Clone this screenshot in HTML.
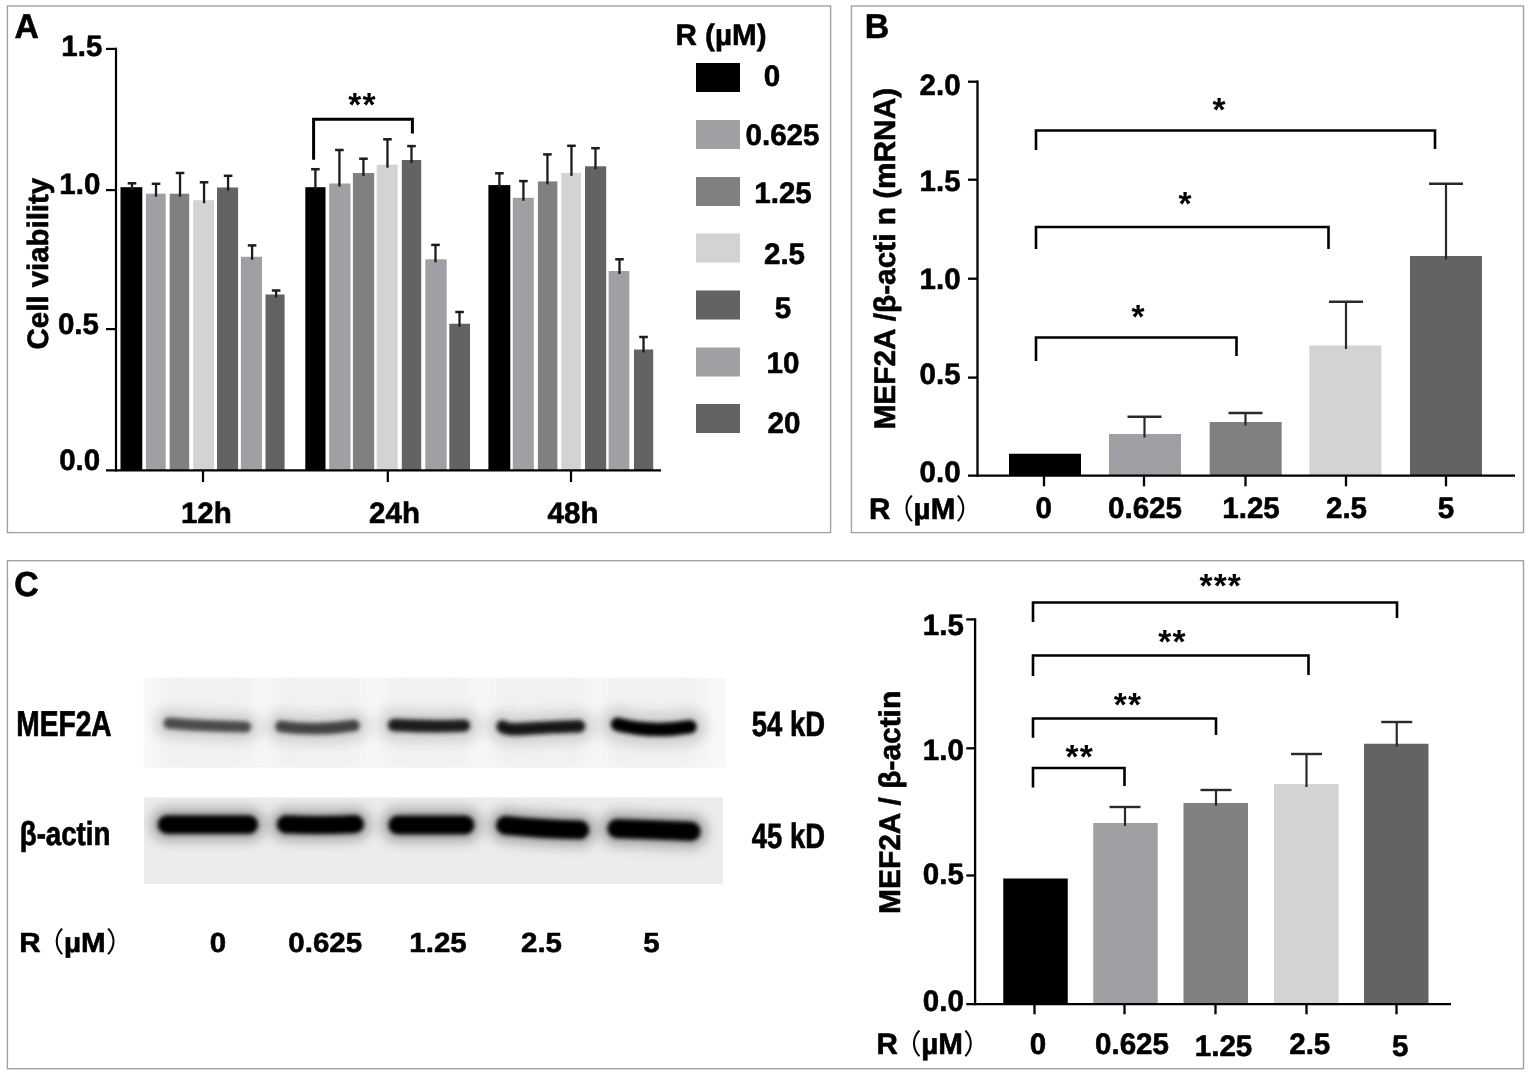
<!DOCTYPE html>
<html lang="en"><head><meta charset="utf-8"><title>Figure</title>
<style>html,body{margin:0;padding:0;background:#fff;overflow:hidden}svg{display:block}</style></head>
<body>
<svg width="1535" height="1078" viewBox="0 0 1535 1078" font-family='"Liberation Sans", "Noto Sans CJK SC", sans-serif' font-weight="bold" fill="#000" text-rendering="geometricPrecision">
<defs><filter id="b1" filterUnits="userSpaceOnUse" x="100" y="640" width="680" height="280"><feGaussianBlur stdDeviation="2.3"/></filter><filter id="b2" filterUnits="userSpaceOnUse" x="100" y="640" width="680" height="280"><feGaussianBlur stdDeviation="2.2"/></filter><filter id="b3" filterUnits="userSpaceOnUse" x="100" y="640" width="680" height="280"><feGaussianBlur stdDeviation="6"/></filter><filter id="b4" filterUnits="userSpaceOnUse" x="100" y="640" width="680" height="280"><feGaussianBlur stdDeviation="9 0"/></filter></defs>
<rect x="0" y="0" width="1535" height="1078" fill="#fff" />
<rect x="7.4" y="6.0" width="823.2" height="526.6" fill="none" stroke="#a2a2a2" stroke-width="1.4"/>
<rect x="851.4" y="6.0" width="672.1" height="526.6" fill="none" stroke="#a2a2a2" stroke-width="1.4"/>
<rect x="7.4" y="560.7" width="1516.1" height="508.0" fill="none" stroke="#a2a2a2" stroke-width="1.4"/>
<text transform="translate(14.6 38.4) scale(0.125 0.1275)" font-size="270.4" text-anchor="start" stroke="#000" stroke-width="4.8" stroke-linejoin="round" >A</text>
<rect x="120.5" y="187.2" width="21.8" height="283.1" fill="#000000" />
<line x1="132.0" y1="183.3" x2="132.0" y2="190.2" stroke="#1c1c1c" stroke-width="2.3" stroke-linecap="butt"/>
<line x1="127.7" y1="183.3" x2="136.3" y2="183.3" stroke="#1c1c1c" stroke-width="2.5" stroke-linecap="butt"/>
<rect x="145.9" y="193.7" width="19.8" height="276.6" fill="#a0a0a4" />
<line x1="156.02" y1="183.8" x2="156.02" y2="196.7" stroke="#1c1c1c" stroke-width="2.3" stroke-linecap="butt"/>
<line x1="151.72" y1="183.8" x2="160.32000000000002" y2="183.8" stroke="#1c1c1c" stroke-width="2.5" stroke-linecap="butt"/>
<rect x="169.7" y="193.7" width="19.5" height="276.6" fill="#808080" />
<line x1="180.04" y1="173" x2="180.04" y2="196.7" stroke="#1c1c1c" stroke-width="2.3" stroke-linecap="butt"/>
<line x1="175.73999999999998" y1="173" x2="184.34" y2="173" stroke="#1c1c1c" stroke-width="2.5" stroke-linecap="butt"/>
<rect x="193.2" y="200.2" width="20.8" height="270.1" fill="#d3d3d3" />
<line x1="204.06" y1="182.3" x2="204.06" y2="203.2" stroke="#1c1c1c" stroke-width="2.3" stroke-linecap="butt"/>
<line x1="199.76" y1="182.3" x2="208.36" y2="182.3" stroke="#1c1c1c" stroke-width="2.5" stroke-linecap="butt"/>
<rect x="217" y="187.5" width="21.1" height="282.8" fill="#636363" />
<line x1="228.08" y1="175.8" x2="228.08" y2="190.5" stroke="#1c1c1c" stroke-width="2.3" stroke-linecap="butt"/>
<line x1="223.78" y1="175.8" x2="232.38000000000002" y2="175.8" stroke="#1c1c1c" stroke-width="2.5" stroke-linecap="butt"/>
<rect x="240.9" y="256.8" width="21.1" height="213.5" fill="#a0a0a4" />
<line x1="252.1" y1="245.4" x2="252.1" y2="259.8" stroke="#1c1c1c" stroke-width="2.3" stroke-linecap="butt"/>
<line x1="247.79999999999998" y1="245.4" x2="256.4" y2="245.4" stroke="#1c1c1c" stroke-width="2.5" stroke-linecap="butt"/>
<rect x="265.5" y="294.5" width="19.1" height="175.8" fill="#636363" />
<line x1="276.12" y1="290.5" x2="276.12" y2="297.5" stroke="#1c1c1c" stroke-width="2.3" stroke-linecap="butt"/>
<line x1="271.82" y1="290.5" x2="280.42" y2="290.5" stroke="#1c1c1c" stroke-width="2.5" stroke-linecap="butt"/>
<rect x="305.3" y="187.2" width="20.2" height="283.1" fill="#000000" />
<line x1="315.4" y1="169.2" x2="315.4" y2="190.2" stroke="#1c1c1c" stroke-width="2.3" stroke-linecap="butt"/>
<line x1="311.09999999999997" y1="169.2" x2="319.7" y2="169.2" stroke="#1c1c1c" stroke-width="2.5" stroke-linecap="butt"/>
<rect x="329.2" y="183.5" width="21.3" height="286.8" fill="#a0a0a4" />
<line x1="339.42" y1="150" x2="339.42" y2="186.5" stroke="#1c1c1c" stroke-width="2.3" stroke-linecap="butt"/>
<line x1="335.12" y1="150" x2="343.72" y2="150" stroke="#1c1c1c" stroke-width="2.5" stroke-linecap="butt"/>
<rect x="352.9" y="173" width="21.3" height="297.3" fill="#808080" />
<line x1="363.44" y1="158.7" x2="363.44" y2="176" stroke="#1c1c1c" stroke-width="2.3" stroke-linecap="butt"/>
<line x1="359.14" y1="158.7" x2="367.74" y2="158.7" stroke="#1c1c1c" stroke-width="2.5" stroke-linecap="butt"/>
<rect x="376.7" y="164.7" width="21.0" height="305.6" fill="#d3d3d3" />
<line x1="387.46" y1="139.3" x2="387.46" y2="167.7" stroke="#1c1c1c" stroke-width="2.3" stroke-linecap="butt"/>
<line x1="383.15999999999997" y1="139.3" x2="391.76" y2="139.3" stroke="#1c1c1c" stroke-width="2.5" stroke-linecap="butt"/>
<rect x="401.8" y="160" width="19.4" height="310.3" fill="#636363" />
<line x1="411.48" y1="146.1" x2="411.48" y2="163" stroke="#1c1c1c" stroke-width="2.3" stroke-linecap="butt"/>
<line x1="407.18" y1="146.1" x2="415.78000000000003" y2="146.1" stroke="#1c1c1c" stroke-width="2.5" stroke-linecap="butt"/>
<rect x="425.3" y="259.3" width="21.4" height="211.0" fill="#a0a0a4" />
<line x1="435.5" y1="244.9" x2="435.5" y2="262.3" stroke="#1c1c1c" stroke-width="2.3" stroke-linecap="butt"/>
<line x1="431.2" y1="244.9" x2="439.8" y2="244.9" stroke="#1c1c1c" stroke-width="2.5" stroke-linecap="butt"/>
<rect x="449.3" y="323.75" width="20.7" height="146.55" fill="#636363" />
<line x1="459.52" y1="312" x2="459.52" y2="326.75" stroke="#1c1c1c" stroke-width="2.3" stroke-linecap="butt"/>
<line x1="455.21999999999997" y1="312" x2="463.82" y2="312" stroke="#1c1c1c" stroke-width="2.5" stroke-linecap="butt"/>
<rect x="488.4" y="185.1" width="21.9" height="285.2" fill="#000000" />
<line x1="499.4" y1="173.3" x2="499.4" y2="188.1" stroke="#1c1c1c" stroke-width="2.3" stroke-linecap="butt"/>
<line x1="495.09999999999997" y1="173.3" x2="503.7" y2="173.3" stroke="#1c1c1c" stroke-width="2.5" stroke-linecap="butt"/>
<rect x="512.8" y="197.8" width="21.0" height="272.5" fill="#a0a0a4" />
<line x1="523.42" y1="181.1" x2="523.42" y2="200.8" stroke="#1c1c1c" stroke-width="2.3" stroke-linecap="butt"/>
<line x1="519.12" y1="181.1" x2="527.7199999999999" y2="181.1" stroke="#1c1c1c" stroke-width="2.5" stroke-linecap="butt"/>
<rect x="537.9" y="181.4" width="19.5" height="288.9" fill="#808080" />
<line x1="547.44" y1="154.4" x2="547.44" y2="184.4" stroke="#1c1c1c" stroke-width="2.3" stroke-linecap="butt"/>
<line x1="543.1400000000001" y1="154.4" x2="551.74" y2="154.4" stroke="#1c1c1c" stroke-width="2.5" stroke-linecap="butt"/>
<rect x="561.3" y="172.9" width="19.6" height="297.4" fill="#d3d3d3" />
<line x1="571.46" y1="145.8" x2="571.46" y2="175.9" stroke="#1c1c1c" stroke-width="2.3" stroke-linecap="butt"/>
<line x1="567.1600000000001" y1="145.8" x2="575.76" y2="145.8" stroke="#1c1c1c" stroke-width="2.5" stroke-linecap="butt"/>
<rect x="585" y="166.3" width="21.2" height="304.0" fill="#636363" />
<line x1="595.48" y1="148.2" x2="595.48" y2="169.3" stroke="#1c1c1c" stroke-width="2.3" stroke-linecap="butt"/>
<line x1="591.1800000000001" y1="148.2" x2="599.78" y2="148.2" stroke="#1c1c1c" stroke-width="2.5" stroke-linecap="butt"/>
<rect x="608.6" y="271" width="20.7" height="199.3" fill="#a0a0a4" />
<line x1="619.5" y1="259.3" x2="619.5" y2="274" stroke="#1c1c1c" stroke-width="2.3" stroke-linecap="butt"/>
<line x1="615.2" y1="259.3" x2="623.8" y2="259.3" stroke="#1c1c1c" stroke-width="2.5" stroke-linecap="butt"/>
<rect x="634" y="349.5" width="19.2" height="120.8" fill="#636363" />
<line x1="643.52" y1="337" x2="643.52" y2="352.5" stroke="#1c1c1c" stroke-width="2.3" stroke-linecap="butt"/>
<line x1="639.22" y1="337" x2="647.8199999999999" y2="337" stroke="#1c1c1c" stroke-width="2.5" stroke-linecap="butt"/>
<line x1="116" y1="47.8" x2="116" y2="471.4" stroke="#000" stroke-width="2.2" stroke-linecap="butt"/>
<line x1="106" y1="470.3" x2="661" y2="470.3" stroke="#000" stroke-width="2.3" stroke-linecap="butt"/>
<line x1="106" y1="48.9" x2="116" y2="48.9" stroke="#000" stroke-width="2.2" stroke-linecap="butt"/>
<line x1="106" y1="190.1" x2="116" y2="190.1" stroke="#000" stroke-width="2.2" stroke-linecap="butt"/>
<line x1="106" y1="329.1" x2="116" y2="329.1" stroke="#000" stroke-width="2.2" stroke-linecap="butt"/>
<line x1="203" y1="470" x2="203" y2="482" stroke="#000" stroke-width="2.2" stroke-linecap="butt"/>
<line x1="387.8" y1="470" x2="387.8" y2="482" stroke="#000" stroke-width="2.2" stroke-linecap="butt"/>
<line x1="571" y1="470" x2="571" y2="482" stroke="#000" stroke-width="2.2" stroke-linecap="butt"/>
<text transform="translate(102.3 56.3) scale(0.125 0.125)" font-size="236.0" text-anchor="end" stroke="#000" stroke-width="4.8" stroke-linejoin="round" >1.5</text>
<text transform="translate(100.3 194.3) scale(0.125 0.125)" font-size="236.0" text-anchor="end" stroke="#000" stroke-width="4.8" stroke-linejoin="round" >1.0</text>
<text transform="translate(98.9 334) scale(0.125 0.125)" font-size="236.0" text-anchor="end" stroke="#000" stroke-width="4.8" stroke-linejoin="round" >0.5</text>
<text transform="translate(100.2 470) scale(0.125 0.125)" font-size="236.0" text-anchor="end" stroke="#000" stroke-width="4.8" stroke-linejoin="round" >0.0</text>
<text transform="translate(206.3 523) scale(0.125 0.125)" font-size="236.0" text-anchor="middle" stroke="#000" stroke-width="4.8" stroke-linejoin="round" >12h</text>
<text transform="translate(394.5 523) scale(0.125 0.125)" font-size="236.0" text-anchor="middle" stroke="#000" stroke-width="4.8" stroke-linejoin="round" >24h</text>
<text transform="translate(573 523) scale(0.125 0.125)" font-size="236.0" text-anchor="middle" stroke="#000" stroke-width="4.8" stroke-linejoin="round" >48h</text>
<text transform="translate(48.3 263.6) rotate(-90) scale(0.125 0.125)" font-size="235.2" text-anchor="middle" stroke="#000" stroke-width="4.8" stroke-linejoin="round" >Cell viability</text>
<path d="M313.6 159.8V119.2H412.4V133.6" fill="none" stroke="#000" stroke-width="3" stroke-linejoin="miter"/>
<text transform="translate(362.6 115.7) scale(0.125 0.125)" font-size="268.0" text-anchor="middle" stroke="none" letter-spacing="9.6">**</text>
<text transform="translate(721 44.7) scale(0.125 0.125)" font-size="236.8" text-anchor="middle" stroke="#000" stroke-width="4.8" stroke-linejoin="round" >R (µM)</text>
<rect x="696" y="63" width="44" height="29" fill="#000000" />
<text transform="translate(772 86.3) scale(0.125 0.125)" font-size="236.8" text-anchor="middle" stroke="#000" stroke-width="4.8" stroke-linejoin="round" >0</text>
<rect x="696" y="120" width="44" height="29" fill="#a0a0a4" />
<text transform="translate(782.5 145.3) scale(0.125 0.125)" font-size="236.8" text-anchor="middle" stroke="#000" stroke-width="4.8" stroke-linejoin="round" >0.625</text>
<rect x="696" y="177" width="44" height="29" fill="#808080" />
<text transform="translate(783 203.3) scale(0.125 0.125)" font-size="236.8" text-anchor="middle" stroke="#000" stroke-width="4.8" stroke-linejoin="round" >1.25</text>
<rect x="696" y="233.5" width="44" height="29" fill="#d3d3d3" />
<text transform="translate(784.5 264.3) scale(0.125 0.125)" font-size="236.8" text-anchor="middle" stroke="#000" stroke-width="4.8" stroke-linejoin="round" >2.5</text>
<rect x="696" y="290.5" width="44" height="29" fill="#636363" />
<text transform="translate(783 317.8) scale(0.125 0.125)" font-size="236.8" text-anchor="middle" stroke="#000" stroke-width="4.8" stroke-linejoin="round" >5</text>
<rect x="696" y="347.5" width="44" height="29" fill="#a0a0a4" />
<text transform="translate(783 373.3) scale(0.125 0.125)" font-size="236.8" text-anchor="middle" stroke="#000" stroke-width="4.8" stroke-linejoin="round" >10</text>
<rect x="696" y="404" width="44" height="29" fill="#636363" />
<text transform="translate(784 433.3) scale(0.125 0.125)" font-size="236.8" text-anchor="middle" stroke="#000" stroke-width="4.8" stroke-linejoin="round" >20</text>
<text transform="translate(864.8 38.4) scale(0.125 0.1275)" font-size="270.4" text-anchor="start" stroke="#000" stroke-width="4.8" stroke-linejoin="round" >B</text>
<rect x="1009" y="453.75" width="72" height="21.94999999999999" fill="#000000" />
<rect x="1109" y="434" width="72" height="41.69999999999999" fill="#a0a0a4" />
<line x1="1144.5" y1="416.75" x2="1144.5" y2="437.5" stroke="#2a2a2a" stroke-width="2.2" stroke-linecap="butt"/>
<line x1="1127.5" y1="416.75" x2="1161.5" y2="416.75" stroke="#2a2a2a" stroke-width="2.4000000000000004" stroke-linecap="butt"/>
<rect x="1209.7" y="422" width="72" height="53.69999999999999" fill="#808080" />
<line x1="1245.5" y1="413" x2="1245.5" y2="425.5" stroke="#2a2a2a" stroke-width="2.2" stroke-linecap="butt"/>
<line x1="1228.5" y1="413" x2="1262.5" y2="413" stroke="#2a2a2a" stroke-width="2.4000000000000004" stroke-linecap="butt"/>
<rect x="1309.4" y="345.5" width="72" height="130.2" fill="#d3d3d3" />
<line x1="1346" y1="301.75" x2="1346" y2="349.0" stroke="#2a2a2a" stroke-width="2.2" stroke-linecap="butt"/>
<line x1="1329.0" y1="301.75" x2="1363.0" y2="301.75" stroke="#2a2a2a" stroke-width="2.4000000000000004" stroke-linecap="butt"/>
<rect x="1410" y="256" width="72" height="219.7" fill="#636363" />
<line x1="1446" y1="183.75" x2="1446" y2="259.5" stroke="#2a2a2a" stroke-width="2.2" stroke-linecap="butt"/>
<line x1="1429.0" y1="183.75" x2="1463.0" y2="183.75" stroke="#2a2a2a" stroke-width="2.4000000000000004" stroke-linecap="butt"/>
<line x1="977.5" y1="80.5" x2="977.5" y2="476.8" stroke="#000" stroke-width="2.3" stroke-linecap="butt"/>
<line x1="968" y1="475.7" x2="1515" y2="475.7" stroke="#000" stroke-width="2.3" stroke-linecap="butt"/>
<line x1="968" y1="81.7" x2="977.5" y2="81.7" stroke="#000" stroke-width="2.3" stroke-linecap="butt"/>
<line x1="968" y1="179.7" x2="977.5" y2="179.7" stroke="#000" stroke-width="2.3" stroke-linecap="butt"/>
<line x1="968" y1="278.7" x2="977.5" y2="278.7" stroke="#000" stroke-width="2.3" stroke-linecap="butt"/>
<line x1="968" y1="377.6" x2="977.5" y2="377.6" stroke="#000" stroke-width="2.3" stroke-linecap="butt"/>
<line x1="1044" y1="475.7" x2="1044" y2="486.3" stroke="#000" stroke-width="2.3" stroke-linecap="butt"/>
<line x1="1144" y1="475.7" x2="1144" y2="486.3" stroke="#000" stroke-width="2.3" stroke-linecap="butt"/>
<line x1="1245.5" y1="475.7" x2="1245.5" y2="486.3" stroke="#000" stroke-width="2.3" stroke-linecap="butt"/>
<line x1="1346" y1="475.7" x2="1346" y2="486.3" stroke="#000" stroke-width="2.3" stroke-linecap="butt"/>
<line x1="1446" y1="475.7" x2="1446" y2="486.3" stroke="#000" stroke-width="2.3" stroke-linecap="butt"/>
<text transform="translate(960.6 95.2) scale(0.125 0.125)" font-size="236.0" text-anchor="end" stroke="#000" stroke-width="4.8" stroke-linejoin="round" >2.0</text>
<text transform="translate(960.6 191.2) scale(0.125 0.125)" font-size="236.0" text-anchor="end" stroke="#000" stroke-width="4.8" stroke-linejoin="round" >1.5</text>
<text transform="translate(960.6 289.3) scale(0.125 0.125)" font-size="236.0" text-anchor="end" stroke="#000" stroke-width="4.8" stroke-linejoin="round" >1.0</text>
<text transform="translate(960.6 383.7) scale(0.125 0.125)" font-size="236.0" text-anchor="end" stroke="#000" stroke-width="4.8" stroke-linejoin="round" >0.5</text>
<text transform="translate(960.6 481.9) scale(0.125 0.125)" font-size="236.0" text-anchor="end" stroke="#000" stroke-width="4.8" stroke-linejoin="round" >0.0</text>
<text transform="translate(868.9000000000001 518.6) scale(0.125 0.125)" font-size="236.8" text-anchor="start" stroke="#000" stroke-width="4.8" stroke-linejoin="round" >R</text>
<text x="886.0" y="518.6" font-size="28" font-weight="normal" font-family='"Noto Sans CJK SC", sans-serif'>（</text>
<text transform="translate(913.6 518.6) scale(0.125 0.125)" font-size="236.8" text-anchor="start" stroke="#000" stroke-width="4.8" stroke-linejoin="round" >µM</text>
<text x="955.7" y="518.6" font-size="28" font-weight="normal" font-family='"Noto Sans CJK SC", sans-serif'>）</text>
<text transform="translate(1043.8 518.3) scale(0.125 0.125)" font-size="236.8" text-anchor="middle" stroke="#000" stroke-width="4.8" stroke-linejoin="round" >0</text>
<text transform="translate(1145 518.3) scale(0.125 0.125)" font-size="236.8" text-anchor="middle" stroke="#000" stroke-width="4.8" stroke-linejoin="round" >0.625</text>
<text transform="translate(1251 518.3) scale(0.125 0.125)" font-size="236.8" text-anchor="middle" stroke="#000" stroke-width="4.8" stroke-linejoin="round" >1.25</text>
<text transform="translate(1346.5 518.3) scale(0.125 0.125)" font-size="236.8" text-anchor="middle" stroke="#000" stroke-width="4.8" stroke-linejoin="round" >2.5</text>
<text transform="translate(1446 518.3) scale(0.125 0.125)" font-size="236.8" text-anchor="middle" stroke="#000" stroke-width="4.8" stroke-linejoin="round" >5</text>
<text transform="translate(894.5 258.7) rotate(-90) scale(0.125 0.125)" font-size="238.4" text-anchor="middle" stroke="#000" stroke-width="4.8" stroke-linejoin="round" >MEF2A /β-acti n (mRNA)</text>
<path d="M1036 150V130.5H1435V149" fill="none" stroke="#000" stroke-width="2.6" stroke-linejoin="miter"/>
<path d="M1036 249V227H1328.5V249" fill="none" stroke="#000" stroke-width="2.6" stroke-linejoin="miter"/>
<path d="M1036 361V337.5H1236.5V356" fill="none" stroke="#000" stroke-width="2.6" stroke-linejoin="miter"/>
<text transform="translate(1219.5 121.3) scale(0.125 0.125)" font-size="268.0" text-anchor="middle" stroke="none" letter-spacing="9.6">*</text>
<text transform="translate(1185.5 214.6) scale(0.125 0.125)" font-size="268.0" text-anchor="middle" stroke="none" letter-spacing="9.6">*</text>
<text transform="translate(1138.5 328.2) scale(0.125 0.125)" font-size="268.0" text-anchor="middle" stroke="none" letter-spacing="9.6">*</text>
<text transform="translate(14.2 596.2) scale(0.125 0.1275)" font-size="270.4" text-anchor="start" stroke="#000" stroke-width="4.8" stroke-linejoin="round" >C</text>
<clipPath id="c1"><rect x="143.7" y="677.8" width="582.2" height="89.8"/></clipPath>
<clipPath id="c2"><rect x="144" y="797.6" width="578.9" height="86.3"/></clipPath>
<g clip-path="url(#c1)">
<rect x="143" y="677" width="584" height="92" fill="#f8f8f8" />
<rect x="160" y="660" width="94" height="125" fill="#ebebeb" opacity="0.5" filter="url(#b4)"/>
<rect x="272" y="660" width="91" height="125" fill="#ebebeb" opacity="0.5" filter="url(#b4)"/>
<rect x="383" y="660" width="90" height="125" fill="#ebebeb" opacity="0.5" filter="url(#b4)"/>
<rect x="493" y="660" width="95" height="125" fill="#ebebeb" opacity="0.5" filter="url(#b4)"/>
<rect x="605" y="660" width="95" height="125" fill="#ebebeb" opacity="0.5" filter="url(#b4)"/>
<path d="M169 723.2 Q 205 726.4 245.5 727" fill="none" stroke="#999" stroke-width="29.119999999999997" stroke-linecap="round" opacity="0.36" filter="url(#b3)"/>
<path d="M281 726.4 Q 318 731.4 354 725.6" fill="none" stroke="#999" stroke-width="30.16" stroke-linecap="round" opacity="0.36" filter="url(#b3)"/>
<path d="M394 725 Q 430 727 464 725.6" fill="none" stroke="#999" stroke-width="32.24" stroke-linecap="round" opacity="0.36" filter="url(#b3)"/>
<path d="M502.5 726.5 Q 506 730 522 729 Q 550 727.2 579 726.3" fill="none" stroke="#999" stroke-width="32.24" stroke-linecap="round" opacity="0.36" filter="url(#b3)"/>
<path d="M617.5 724.4 Q 652 733.2 690 726.8" fill="none" stroke="#999" stroke-width="35.36" stroke-linecap="round" opacity="0.36" filter="url(#b3)"/>
<path d="M169 723.2 Q 205 726.4 245.5 727" fill="none" stroke="#4c4c4c" stroke-width="11.2" stroke-linecap="round" filter="url(#b1)"/>
<path d="M281 726.4 Q 318 731.4 354 725.6" fill="none" stroke="#424242" stroke-width="11.6" stroke-linecap="round" filter="url(#b1)"/>
<path d="M394 725 Q 430 727 464 725.6" fill="none" stroke="#1e1e1e" stroke-width="12.4" stroke-linecap="round" filter="url(#b1)"/>
<path d="M502.5 726.5 Q 506 730 522 729 Q 550 727.2 579 726.3" fill="none" stroke="#141414" stroke-width="12.4" stroke-linecap="round" filter="url(#b1)"/>
<path d="M617.5 724.4 Q 652 733.2 690 726.8" fill="none" stroke="#060606" stroke-width="13.6" stroke-linecap="round" filter="url(#b1)"/>
</g>
<g clip-path="url(#c2)">
<rect x="143" y="797" width="581" height="88" fill="#ececec" />
<path d="M167 824.6 H 248.8" fill="none" stroke="#6a6a6a" stroke-width="33.480000000000004" stroke-linecap="round" opacity="0.5" filter="url(#b3)"/>
<path d="M286 824.4 Q 320 826 355 824.2" fill="none" stroke="#6a6a6a" stroke-width="32.76" stroke-linecap="round" opacity="0.5" filter="url(#b3)"/>
<path d="M398 825 H 464.8" fill="none" stroke="#6a6a6a" stroke-width="34.56" stroke-linecap="round" opacity="0.5" filter="url(#b3)"/>
<path d="M505.5 825.4 Q 545 829.5 579.8 829.8" fill="none" stroke="#6a6a6a" stroke-width="33.84" stroke-linecap="round" opacity="0.5" filter="url(#b3)"/>
<path d="M617 828.6 Q 655 829.5 691 831.4" fill="none" stroke="#6a6a6a" stroke-width="34.56" stroke-linecap="round" opacity="0.5" filter="url(#b3)"/>
<path d="M167 824.6 H 248.8" fill="none" stroke="#000" stroke-width="18.6" stroke-linecap="round" filter="url(#b2)"/>
<path d="M286 824.4 Q 320 826 355 824.2" fill="none" stroke="#000" stroke-width="18.2" stroke-linecap="round" filter="url(#b2)"/>
<path d="M398 825 H 464.8" fill="none" stroke="#000" stroke-width="19.2" stroke-linecap="round" filter="url(#b2)"/>
<path d="M505.5 825.4 Q 545 829.5 579.8 829.8" fill="none" stroke="#000" stroke-width="18.8" stroke-linecap="round" filter="url(#b2)"/>
<path d="M617 828.6 Q 655 829.5 691 831.4" fill="none" stroke="#000" stroke-width="19.2" stroke-linecap="round" filter="url(#b2)"/>
</g>
<text transform="translate(16.3 736.1) scale(0.10038 0.1275)" font-size="280" text-anchor="start" stroke="#000" stroke-width="5.6">MEF2A</text>
<text transform="translate(19.8 845.2) scale(0.10312 0.12375)" font-size="268.0" text-anchor="start" stroke="#000" stroke-width="5.6">β-actin</text>
<text transform="translate(751.8 736.4) scale(0.09788 0.125)" font-size="280" text-anchor="start" stroke="#000" stroke-width="5.6">54 kD</text>
<text transform="translate(751.8 847.9) scale(0.09788 0.125)" font-size="280" text-anchor="start" stroke="#000" stroke-width="5.6">45 kD</text>
<text transform="translate(19.2 952.4) scale(0.125 0.1175)" font-size="236.8" text-anchor="start" stroke="#000" stroke-width="4.8" stroke-linejoin="round" >R</text>
<text x="36.3" y="952.4" font-size="28" font-weight="normal" font-family='"Noto Sans CJK SC", sans-serif'>（</text>
<text transform="translate(63.9 952.4) scale(0.125 0.1175)" font-size="236.8" text-anchor="start" stroke="#000" stroke-width="4.8" stroke-linejoin="round" >µM</text>
<text x="106" y="952.4" font-size="28" font-weight="normal" font-family='"Noto Sans CJK SC", sans-serif'>）</text>
<text transform="translate(218 952.4) scale(0.125 0.1175)" font-size="236.0" text-anchor="middle" stroke="#000" stroke-width="4.8" stroke-linejoin="round" >0</text>
<text transform="translate(325.2 952.4) scale(0.125 0.1175)" font-size="236.0" text-anchor="middle" stroke="#000" stroke-width="4.8" stroke-linejoin="round" >0.625</text>
<text transform="translate(438 952.4) scale(0.125 0.1175)" font-size="236.0" text-anchor="middle" stroke="#000" stroke-width="4.8" stroke-linejoin="round" >1.25</text>
<text transform="translate(541.5 952.4) scale(0.125 0.1175)" font-size="236.0" text-anchor="middle" stroke="#000" stroke-width="4.8" stroke-linejoin="round" >2.5</text>
<text transform="translate(651.5 952.4) scale(0.125 0.1175)" font-size="236.0" text-anchor="middle" stroke="#000" stroke-width="4.8" stroke-linejoin="round" >5</text>
<rect x="1003.25" y="878.5" width="64.5" height="125.60000000000002" fill="#000000" />
<rect x="1093.25" y="823" width="64.5" height="181.10000000000002" fill="#a0a0a4" />
<line x1="1125" y1="807" x2="1125" y2="826" stroke="#2a2a2a" stroke-width="2.2" stroke-linecap="butt"/>
<line x1="1109.5" y1="807" x2="1140.5" y2="807" stroke="#2a2a2a" stroke-width="2.4000000000000004" stroke-linecap="butt"/>
<rect x="1183.5" y="803" width="64.5" height="201.10000000000002" fill="#808080" />
<line x1="1216" y1="790" x2="1216" y2="806" stroke="#2a2a2a" stroke-width="2.2" stroke-linecap="butt"/>
<line x1="1200.5" y1="790" x2="1231.5" y2="790" stroke="#2a2a2a" stroke-width="2.4000000000000004" stroke-linecap="butt"/>
<rect x="1274" y="784" width="64.5" height="220.10000000000002" fill="#d3d3d3" />
<line x1="1306.5" y1="754" x2="1306.5" y2="787" stroke="#2a2a2a" stroke-width="2.2" stroke-linecap="butt"/>
<line x1="1291.0" y1="754" x2="1322.0" y2="754" stroke="#2a2a2a" stroke-width="2.4000000000000004" stroke-linecap="butt"/>
<rect x="1364" y="743.75" width="64.5" height="260.35" fill="#636363" />
<line x1="1396.75" y1="722" x2="1396.75" y2="746.75" stroke="#2a2a2a" stroke-width="2.2" stroke-linecap="butt"/>
<line x1="1381.25" y1="722" x2="1412.25" y2="722" stroke="#2a2a2a" stroke-width="2.4000000000000004" stroke-linecap="butt"/>
<line x1="975.1" y1="618.3" x2="975.1" y2="1005.2" stroke="#000" stroke-width="2.3" stroke-linecap="butt"/>
<line x1="966.3" y1="1004.1" x2="1451" y2="1004.1" stroke="#000" stroke-width="2.3" stroke-linecap="butt"/>
<line x1="966.3" y1="619.4" x2="975.1" y2="619.4" stroke="#000" stroke-width="2.3" stroke-linecap="butt"/>
<line x1="966.3" y1="748.3" x2="975.1" y2="748.3" stroke="#000" stroke-width="2.3" stroke-linecap="butt"/>
<line x1="966.3" y1="875.5" x2="975.1" y2="875.5" stroke="#000" stroke-width="2.3" stroke-linecap="butt"/>
<line x1="1034.5" y1="1004.1" x2="1034.5" y2="1014.3" stroke="#000" stroke-width="2.3" stroke-linecap="butt"/>
<line x1="1124.5" y1="1004.1" x2="1124.5" y2="1014.3" stroke="#000" stroke-width="2.3" stroke-linecap="butt"/>
<line x1="1215.5" y1="1004.1" x2="1215.5" y2="1014.3" stroke="#000" stroke-width="2.3" stroke-linecap="butt"/>
<line x1="1306.5" y1="1004.1" x2="1306.5" y2="1014.3" stroke="#000" stroke-width="2.3" stroke-linecap="butt"/>
<line x1="1396.5" y1="1004.1" x2="1396.5" y2="1014.3" stroke="#000" stroke-width="2.3" stroke-linecap="butt"/>
<text transform="translate(963.8 634.6) scale(0.125 0.125)" font-size="236.0" text-anchor="end" stroke="#000" stroke-width="4.8" stroke-linejoin="round" >1.5</text>
<text transform="translate(963.8 760.3) scale(0.125 0.125)" font-size="236.0" text-anchor="end" stroke="#000" stroke-width="4.8" stroke-linejoin="round" >1.0</text>
<text transform="translate(963.8 884.4) scale(0.125 0.125)" font-size="236.0" text-anchor="end" stroke="#000" stroke-width="4.8" stroke-linejoin="round" >0.5</text>
<text transform="translate(963.8 1010.8) scale(0.125 0.125)" font-size="236.0" text-anchor="end" stroke="#000" stroke-width="4.8" stroke-linejoin="round" >0.0</text>
<text transform="translate(876.5 1054.3) scale(0.125 0.125)" font-size="236.8" text-anchor="start" stroke="#000" stroke-width="4.8" stroke-linejoin="round" >R</text>
<text x="893.5999999999999" y="1054.3" font-size="28" font-weight="normal" font-family='"Noto Sans CJK SC", sans-serif'>（</text>
<text transform="translate(921.1999999999999 1054.3) scale(0.125 0.125)" font-size="236.8" text-anchor="start" stroke="#000" stroke-width="4.8" stroke-linejoin="round" >µM</text>
<text x="963.3" y="1054.3" font-size="28" font-weight="normal" font-family='"Noto Sans CJK SC", sans-serif'>）</text>
<text transform="translate(1038 1054.3) scale(0.125 0.125)" font-size="236.8" text-anchor="middle" stroke="#000" stroke-width="4.8" stroke-linejoin="round" >0</text>
<text transform="translate(1132 1054.3) scale(0.125 0.125)" font-size="236.8" text-anchor="middle" stroke="#000" stroke-width="4.8" stroke-linejoin="round" >0.625</text>
<text transform="translate(1223.5 1055.7) scale(0.125 0.125)" font-size="236.8" text-anchor="middle" stroke="#000" stroke-width="4.8" stroke-linejoin="round" >1.25</text>
<text transform="translate(1309.75 1054.3) scale(0.125 0.125)" font-size="236.8" text-anchor="middle" stroke="#000" stroke-width="4.8" stroke-linejoin="round" >2.5</text>
<text transform="translate(1400.25 1055.7) scale(0.125 0.125)" font-size="236.8" text-anchor="middle" stroke="#000" stroke-width="4.8" stroke-linejoin="round" >5</text>
<text transform="translate(900.2 802.4) rotate(-90) scale(0.125 0.125)" font-size="239.2" text-anchor="middle" stroke="#000" stroke-width="4.8" stroke-linejoin="round" >MEF2A / β-actin</text>
<path d="M1033 622V602.5H1397V618" fill="none" stroke="#000" stroke-width="2.6" stroke-linejoin="miter"/>
<path d="M1033 676V655.5H1308.5V675" fill="none" stroke="#000" stroke-width="2.6" stroke-linejoin="miter"/>
<path d="M1033 737.8V718.5H1216V735" fill="none" stroke="#000" stroke-width="2.6" stroke-linejoin="miter"/>
<path d="M1033 787.5V768H1124.5V786" fill="none" stroke="#000" stroke-width="2.6" stroke-linejoin="miter"/>
<text transform="translate(1220.75 597.3) scale(0.125 0.125)" font-size="268.0" text-anchor="middle" stroke="none" letter-spacing="9.6">***</text>
<text transform="translate(1172.5 652.8) scale(0.125 0.125)" font-size="268.0" text-anchor="middle" stroke="none" letter-spacing="9.6">**</text>
<text transform="translate(1128 715.5) scale(0.125 0.125)" font-size="268.0" text-anchor="middle" stroke="none" letter-spacing="9.6">**</text>
<text transform="translate(1079.75 768) scale(0.125 0.125)" font-size="268.0" text-anchor="middle" stroke="none" letter-spacing="9.6">**</text>
</svg>
</body></html>
